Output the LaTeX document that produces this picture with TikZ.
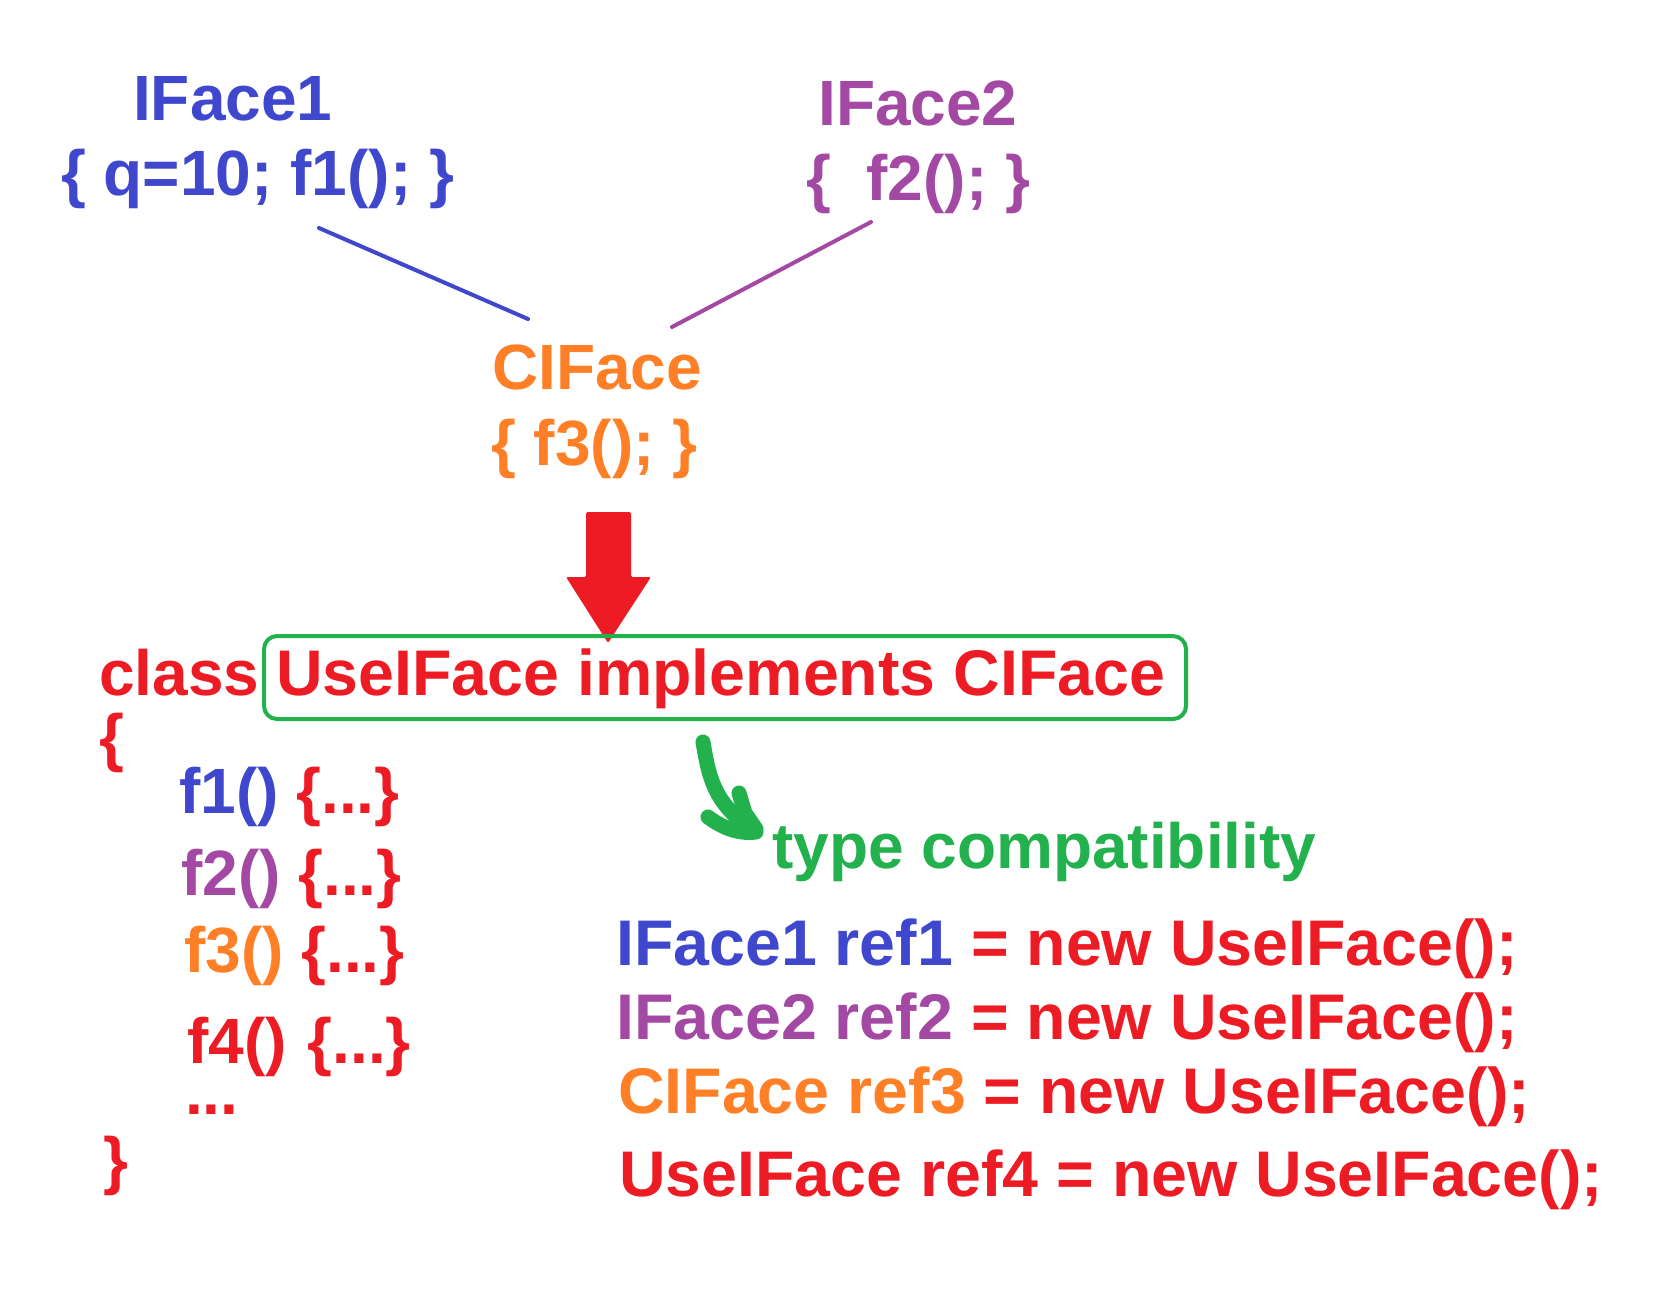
\documentclass[tikz,border=0pt]{standalone}
\usepackage{fontspec}
\setmainfont{Liberation Sans}
\definecolor{cblue}{HTML}{3F48CC}
\definecolor{cpurple}{HTML}{A349A4}
\definecolor{corange}{HTML}{FF7F27}
\definecolor{cred}{HTML}{ED1C24}
\definecolor{cgreen}{HTML}{22B14C}
\begin{document}
\begin{tikzpicture}[x=1pt,y=-1pt,
  txt/.style={inner sep=0pt, anchor=base west, font=\fontsize{64}{70}\selectfont\bfseries},
  big/.style={font=\fontsize{64.5}{70}\selectfont\bfseries},
  link/.style={line width=4pt, line cap=round},
  hand/.style={draw=cgreen, line width=15pt, line cap=round, line join=round}]
\useasboundingbox (0,0) rectangle (1678,1294);
% interfaces
\node[txt, cblue] (i1) at (133,120) {IFace1};
\node[txt, cblue] (i1b) at (61,195) {\{ q=10; f1(); \}};
\node[txt, cpurple] (i2) at (818,125) {IFace2};
\node[txt, cpurple] (i2b) at (806,200) {\{\ \ f2(); \}};
\node[txt, corange] (ci) at (492,389) {CIFace};
\node[txt, corange] (cib) at (491,465) {\{ f3(); \}};
% connectors
\coordinate (a1) at (319,228);
\coordinate (a2) at (528,319);
\coordinate (b1) at (871,222);
\coordinate (b2) at (672,327);
\draw[link, cblue] (a1) -- (a2);
\draw[link, cpurple] (b1) -- (b2);
% red block arrow
\fill[cred, rounded corners=1.5pt] (586,512) -- (631,512) -- (631,577) -- (651,577) -- (608,643) -- (566,577) -- (586,577) -- cycle;
% class declaration
\node[txt, cred] (cls) at (99,695) {class};
\node[draw=cgreen, line width=4pt, rounded corners=13pt, minimum width=922pt, minimum height=83pt, inner sep=0pt, anchor=north west] (box) at (262,634) {};
\node[txt, cred, big] (decl) at (276,695) {UseIFace implements CIFace};
\node[txt, cred] (ob) at (99,759) {\{};
\node[txt, cred] (m1) at (179,813) {\textcolor{cblue}{f1()} \{...\}};
\node[txt, cred] (m2) at (181,895) {\textcolor{cpurple}{f2()} \{...\}};
\node[txt, cred] (m3) at (184,972) {\textcolor{corange}{f3()} \{...\}};
\node[txt, cred] (m4) at (187,1063) {f4()\hspace{21pt}\{...\}};
\node[txt, cred] (dots) at (185,1114) {...};
\node[txt, cred] (cb) at (103,1182) {\}};
% green hand-drawn arrow
\draw[hand] (703,742) .. controls (709,778) and (714,802) .. (750,828);
\draw[hand] (708,817) .. controls (724,829) and (740,834) .. (756,832);
\draw[hand] (739,793) -- (745,813) -- (756,829);
\node[txt, cgreen] (tc) at (772,868) {type compatibility};
% references
\node[txt, cred, big] (r1) at (616,965) {\textcolor{cblue}{IFace1 ref1} = new UseIFace();};
\node[txt, cred, big] (r2) at (616,1039) {\textcolor{cpurple}{IFace2 ref2} = new UseIFace();};
\node[txt, cred, big] (r3) at (618,1113) {\textcolor{corange}{CIFace ref3} = new UseIFace();};
\node[txt, cred, big] (r4) at (619,1196) {UseIFace ref4 = new UseIFace();};
\end{tikzpicture}
\end{document}
